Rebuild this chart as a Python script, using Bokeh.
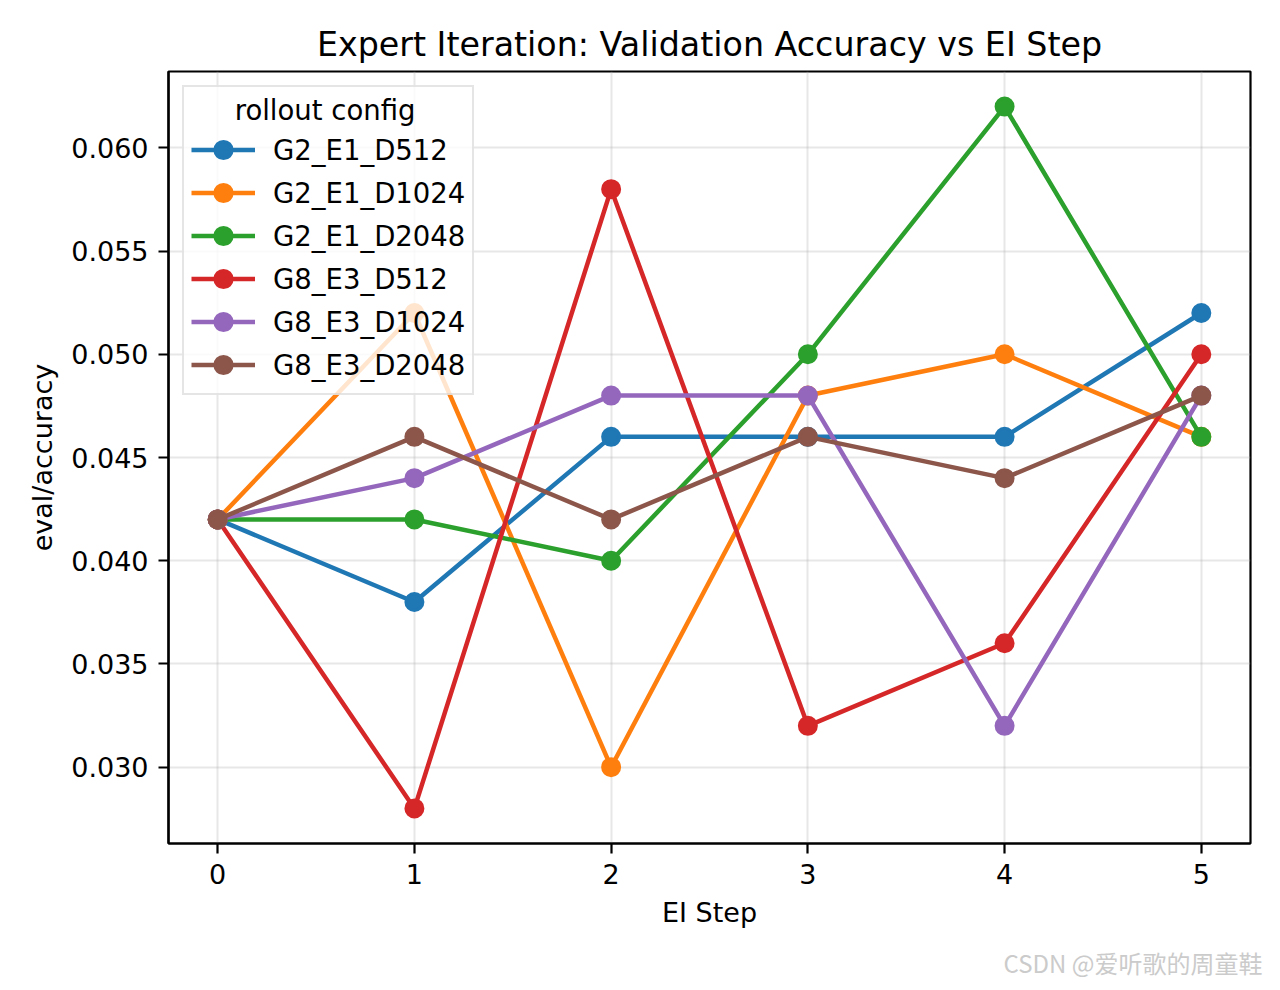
from bokeh.plotting import figure
from bokeh.models import (Range1d, FixedTicker, NumeralTickFormatter, Legend, Title)
from bokeh.embed import file_html
from bokeh.resources import INLINE

steps = [0, 1, 2, 3, 4, 5]
series_names = ["G2_E1_D512", "G2_E1_D1024", "G2_E1_D2048",
                "G8_E3_D512", "G8_E3_D1024", "G8_E3_D2048"]
g2_e1_d512 = [0.042, 0.038, 0.046, 0.046, 0.046, 0.052]
g2_e1_d1024 = [0.042, 0.052, 0.030, 0.048, 0.050, 0.046]
g2_e1_d2048 = [0.042, 0.042, 0.040, 0.050, 0.062, 0.046]
g8_e3_d512 = [0.042, 0.028, 0.058, 0.032, 0.036, 0.050]
g8_e3_d1024 = [0.042, 0.044, 0.048, 0.048, 0.032, 0.048]
g8_e3_d2048 = [0.042, 0.046, 0.042, 0.046, 0.044, 0.048]
series_values = [g2_e1_d512, g2_e1_d1024, g2_e1_d2048,
                 g8_e3_d512, g8_e3_d1024, g8_e3_d2048]
colors = ["#1f77b4", "#ff7f0e", "#2ca02c", "#d62728", "#9467bd", "#8c564b"]
y_ticks = [0.030, 0.035, 0.040, 0.045, 0.050, 0.055, 0.060]
x_ticks = [0, 1, 2, 3, 4, 5]
watermark = "CSDN @爱听歌的周童鞋"

FONT = "DejaVu Sans"
FS = "27px"

all_vals = [v for s in series_values for v in s]
ymin, ymax = min(all_vals), max(all_vals)
ypad = (ymax - ymin) * 0.05
xpad = (max(steps) - min(steps)) * 0.05

p = figure(width=1264, height=974, output_backend="svg", toolbar_location=None,
           x_range=Range1d(min(steps) - xpad, max(steps) + xpad),
           y_range=Range1d(ymin - ypad, ymax + ypad),
           min_border_left=168, min_border_right=14, min_border_top=71, min_border_bottom=131,
           frame_width=1082, frame_height=772,
           title="Expert Iteration: Validation Accuracy vs EI Step")
p.title.align = "center"
p.title.text_font = FONT
p.title.text_font_size = "33.3px"
p.title.text_font_style = "normal"
p.title.text_color = "#000000"
p.title.standoff = 16

p.outline_line_color = "#000000"
p.outline_line_width = 2.2
p.background_fill_color = "#ffffff"
p.border_fill_color = "#ffffff"

for ax in (p.xaxis[0], p.yaxis[0]):
    ax.axis_line_width = 2.2
    ax.axis_line_color = "#000000"
    ax.major_tick_line_width = 2.2
    ax.major_tick_line_color = "#000000"
    ax.major_tick_out = 10
    ax.major_tick_in = 0
    ax.minor_tick_line_color = None
    ax.major_label_text_font = FONT
    ax.major_label_text_font_size = FS
    ax.major_label_text_color = "#000000"
    ax.major_label_standoff = 10
    ax.axis_label_text_font = FONT
    ax.axis_label_text_font_size = FS
    ax.axis_label_text_font_style = "normal"
    ax.axis_label_text_color = "#000000"

p.xaxis.ticker = FixedTicker(ticks=x_ticks)
p.yaxis.ticker = FixedTicker(ticks=y_ticks)
p.yaxis.formatter = NumeralTickFormatter(format="0.000")
p.xaxis.axis_label = "EI Step"
p.yaxis.axis_label = "eval/accuracy"
p.xaxis.axis_label_standoff = 10
p.yaxis.axis_label_standoff = 10

p.grid.grid_line_color = "#b0b0b0"
p.grid.grid_line_alpha = 0.3
p.grid.grid_line_width = 2

items = []
for name, vals, col in zip(series_names, series_values, colors):
    r1 = p.line(steps, vals, line_color=col, line_width=4.5)
    r2 = p.scatter(steps, vals, size=17, fill_color=col, line_color=col, line_width=3)
    items.append((name, [r1, r2]))

legend = Legend(items=items, location="top_left")
legend.title = "\u00a0" * 5 + "rollout config"
legend.title_text_font = FONT
legend.title_text_font_size = "27.5px"
legend.title_text_font_style = "normal"
legend.title_text_color = "#000000"
legend.title_standoff = 2
legend.label_text_font = FONT
legend.label_text_font_size = "27.5px"
legend.label_text_color = "#000000"
legend.glyph_width = 64
legend.glyph_height = 43
legend.label_height = 43
legend.spacing = 0
legend.label_standoff = 18
legend.padding = 7
legend.margin = 14
legend.border_line_color = "#cccccc"
legend.border_line_width = 2.2
legend.background_fill_color = "#ffffff"
legend.background_fill_alpha = 0.8
p.add_layout(legend, "center")

wm = Title(text=watermark, align="right", offset=-12, standoff=25,
           text_font="Noto Sans CJK SC", text_font_size="24px",
           text_font_style="normal", text_color="#cbcbcb")
p.add_layout(wm, "below")

open("out.html", "w").write(file_html(p, INLINE))
